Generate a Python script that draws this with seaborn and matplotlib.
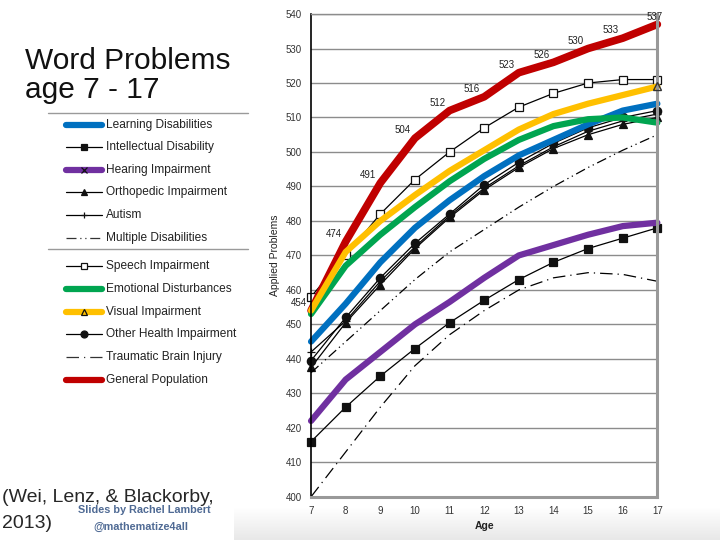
import numpy as np
import matplotlib
matplotlib.use("Agg")
import matplotlib.pyplot as plt
import seaborn as sns
from matplotlib.colors import LinearSegmentedColormap

# Datos (Applied Problems por edad)
ages = list(range(7, 18))
learning = [445, 456, 468, 478, 486, 493, 499, 503.5, 508, 512, 514]
intellectual = [416, 426, 435, 443, 450.5, 457, 463, 468, 472, 475, 478]
hearing = [422, 434, 442, 450, 456.5, 463.5, 470, 473, 476, 478.5, 479.5]
orthopedic = [437.5, 450.5, 461.5, 472, 481, 489, 495.5, 501, 505, 508, 510]
autism = [442, 451, 462.5, 472.5, 481.5, 489.5, 496, 501.5, 506, 509, 511]
multiple = [436, 445, 454, 463, 471, 477.5, 484, 490, 495.5, 500.5, 505]
speech = [458, 470, 482, 492, 500, 507, 513, 517, 520, 521, 521]
emotional = [453, 467, 476, 484, 491.5, 498, 503.5, 507.5, 509.5, 510, 508.5]
visual = [454, 471, 480, 487.5, 494.5, 500.5, 506.5, 511, 514, 516.5, 519]
health = [439.5, 452, 463.5, 473.5, 482, 490.5, 497, 502.5, 507, 510, 512]
tbi = [400, 413, 426, 438, 447, 454, 460, 463.5, 465, 464.5, 462.5]
general = [454, 474, 491, 504, 512, 516, 523, 526, 530, 533, 537]

y_ticks = list(range(400, 541, 10))

sns.set_theme(style="white")
plt.rcParams['font.family'] = ['Liberation Sans', 'DejaVu Sans']

fig = plt.figure(figsize=(7.2, 5.4), dpi=100)

# franja gris de abajo
ax_bg = fig.add_axes([0.325, 0, 0.675, 0.06])
cmap_bg = LinearSegmentedColormap.from_list("bg", ["#ffffff", "#e8e8e8"])
ax_bg.imshow(np.linspace(0, 1, 50).reshape(-1, 1), aspect='auto', cmap=cmap_bg)
ax_bg.axis('off')

# estilos: (nombre, valores, color, grosor, marcador, relleno, tamaño, linea)
dashdotdot = (0, (8, 3, 1, 3, 1, 3))
dashdot = (0, (10, 4, 1, 4))
thin = [
    ("Intellectual Disability", intellectual, "black", 0.9, "s", "#111111", 5.5, "-"),
    ("Orthopedic Impairment", orthopedic, "black", 0.9, "^", "#111111", 5.5, "-"),
    ("Autism", autism, "black", 0.9, "+", "#111111", 5.5, "-"),
    ("Multiple Disabilities", multiple, "black", 0.9, None, None, 0, dashdotdot),
    ("Speech Impairment", speech, "black", 0.9, "s", "white", 6, "-"),
    ("Other Health Impairment", health, "black", 0.9, "o", "#111111", 6, "-"),
    ("Traumatic Brain Injury", tbi, "black", 0.9, None, None, 0, dashdot),
]
thick = [
    ("General Population", general, "#c00000", 5.5, None, None, 0, "-"),
    ("Hearing Impairment", hearing, "#7030a0", 4.5, None, None, 0, "-"),
    ("Learning Disabilities", learning, "#0070c0", 4.5, None, None, 0, "-"),
    ("Emotional Disturbances", emotional, "#00a550", 4.5, None, None, 0, "-"),
    ("Visual Impairment", visual, "#ffc000", 4.5, None, None, 0, "-"),
]

ax = fig.add_axes([0.432, 0.080, 0.481, 0.894])
for name, vals, col, lw, mk, mfc, ms, ls in thin + thick:
    sns.lineplot(x=ages, y=vals, ax=ax, color=col, linewidth=lw, linestyle=ls,
                 marker=mk, markerfacecolor=mfc, markeredgecolor="#111111",
                 markersize=ms, markeredgewidth=0.9, clip_on=False)
# triangulo abierto al final de Visual Impairment
ax.plot(ages[-1], visual[-1], marker="^", mfc="none", mec="#333333", ms=6, clip_on=False, zorder=5)

# etiquetas de la población general
for i, (a, v) in enumerate(zip(ages, general)):
    ha = 'center' if i == len(ages) - 1 else 'right'
    ax.annotate(str(v), (a, v), xytext=(-3 if ha == 'right' else -2, 2), textcoords='offset points',
                ha=ha, va='bottom', fontsize=7, color='#222222')

ax.set_xlim(7, 17)
ax.set_ylim(400, 540)
ax.set_xticks(ages)
ax.set_yticks(y_ticks)
ax.tick_params(axis='both', labelsize=7, colors='#333333', length=3, width=0.8)
ax.yaxis.grid(True, color='#8c8c8c', linewidth=1)
ax.set_axisbelow(True)
for s in ['bottom', 'right']:
    ax.spines[s].set_color('#999999')
    ax.spines[s].set_linewidth(2.2)
ax.spines['left'].set_color('black')
ax.spines['left'].set_linewidth(1.2)
ax.spines['top'].set_color('#8c8c8c')
ax.spines['top'].set_linewidth(1)
ax.set_xlabel('Age', fontsize=7.5, fontweight='bold', color='#222222', labelpad=4)
ax.set_ylabel('Applied Problems', fontsize=7.5, color='#222222', labelpad=4)

# leyenda dibujada a mano
ax_leg = fig.add_axes([0, 0, 1, 1], zorder=-1)
ax_leg.set_xlim(0, 720)
ax_leg.set_ylim(540, 0)
ax_leg.axis('off')
leg_items = [
    ("Learning Disabilities", "#0070c0", 4.5, None, None, "-"),
    ("Intellectual Disability", "black", 0.9, "s", "#111111", "-"),
    ("Hearing Impairment", "#7030a0", 4.5, "x", "#7030a0", "-"),
    ("Orthopedic Impairment", "black", 0.9, "^", "#111111", "-"),
    ("Autism", "black", 0.9, "+", "#111111", "-"),
    ("Multiple Disabilities", "#333333", 0.9, None, None, dashdotdot),
    ("Speech Impairment", "black", 0.9, "s", "white", "-"),
    ("Emotional Disturbances", "#00a550", 4.5, None, None, "-"),
    ("Visual Impairment", "#ffc000", 4.5, "^", "none", "-"),
    ("Other Health Impairment", "black", 0.9, "o", "#111111", "-"),
    ("Traumatic Brain Injury", "#333333", 0.9, None, None, dashdot),
    ("General Population", "#c00000", 4.5, None, None, "-"),
]
leg_rows = [125, 147, 170, 192, 215, 238, 266, 289, 312, 334, 357, 380]
for (label, col, lw, mk, mfc, ls), yy in zip(leg_items, leg_rows):
    ax_leg.plot([66, 102], [yy, yy], color=col, linewidth=lw, linestyle=ls)
    if mk:
        ax_leg.plot([84], [yy], marker=mk, mfc=mfc, mec="#111111", ms=5, mew=0.9, color=col)
    ax_leg.text(106, yy, label, fontsize=8.6, color='#222222', va='center', ha='left')
for yy in [113, 249]:
    ax_leg.plot([48, 248], [yy, yy], color='#9a9a9a', linewidth=1)

# titulo y referencia
fig.text(25 / 720, 1 - 61 / 540, "Word Problems", fontsize=21.5, va='center', color='#111111')
fig.text(25 / 720, 1 - 90 / 540, "age 7 - 17", fontsize=21.5, va='center', color='#111111')
fig.text(2 / 720, 1 - 497 / 540, "(Wei, Lenz, & Blackorby,", fontsize=14, va='center')
fig.text(2 / 720, 1 - 524 / 540, "2013)", fontsize=14, va='center')
fig.text(144 / 720, 1 - 510 / 540, "Slides by Rachel Lambert", fontsize=7.8, fontweight='bold',
         color='#4f6a94', ha='center', va='center')
fig.text(141 / 720, 1 - 527 / 540, "@mathematize4all", fontsize=7.8, fontweight='bold',
         color='#4f6a94', ha='center', va='center')

fig.savefig("out.png", dpi=100)
